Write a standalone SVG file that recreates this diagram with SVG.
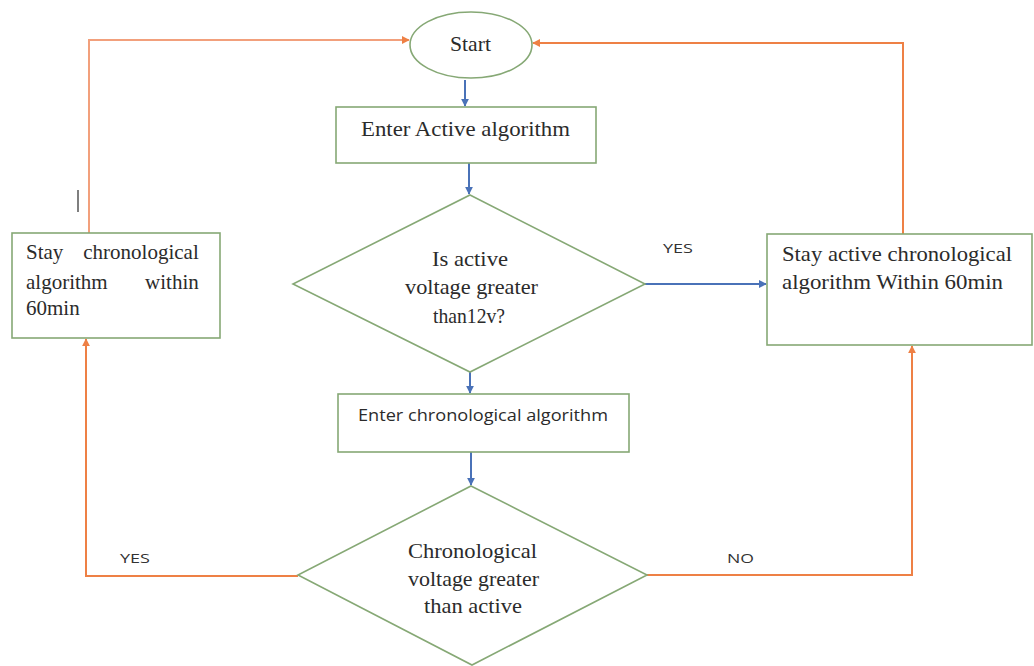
<svg xmlns="http://www.w3.org/2000/svg" width="1034" height="666" viewBox="0 0 1034 666">
  <style>
    .shape { fill: #ffffff; stroke: #86a875; stroke-width: 1.6; }
    .serif { font-family: "Liberation Serif", "DejaVu Serif", serif; font-size: 21px; fill: #2b2b2b; }
    .sans { font-family: "Open Sans", "Liberation Sans", sans-serif; fill: #2b2b2b; }
    .blue { fill: none; stroke: #4a72b8; stroke-width: 2; }
    .orange { fill: none; stroke: #ee8045; stroke-width: 2; }
    .orange-light { fill: none; stroke: #f2a07c; stroke-width: 2; }
    .label { font-family: "Open Sans", "Liberation Sans", sans-serif; font-size: 13px; fill: #333333; }
  </style>
  <defs>
    <marker id="arrowBlue" viewBox="0 0 10 10" refX="9" refY="5" markerWidth="4" markerHeight="4" orient="auto">
      <path d="M0,0 L10,5 L0,10 z" fill="#4a72b8"/>
    </marker>
    <marker id="arrowOrange" viewBox="0 0 10 10" refX="9" refY="5" markerWidth="4" markerHeight="4" orient="auto">
      <path d="M0,0 L10,5 L0,10 z" fill="#ee8045"/>
    </marker>
  </defs>

  <rect width="1034" height="666" fill="#ffffff"/>

  <!-- connectors -->
  <g id="connectors">
    <path class="blue" d="M465,80 L465,106" marker-end="url(#arrowBlue)"/>
    <path class="blue" d="M469,163 L469,194" marker-end="url(#arrowBlue)"/>
    <path class="blue" d="M645,284 L766,284" marker-end="url(#arrowBlue)"/>
    <path class="blue" d="M470,372 L470,393" marker-end="url(#arrowBlue)"/>
    <path class="blue" d="M471,452 L471,485" marker-end="url(#arrowBlue)"/>
    <path class="orange-light" d="M89,233 L89,40 L409,40" marker-end="url(#arrowOrange)"/>
    <path class="orange" d="M903,234 L903,43 L533,43" marker-end="url(#arrowOrange)"/>
    <path class="orange" d="M298,576 L86,576 L86,339" marker-end="url(#arrowOrange)"/>
    <path class="orange" d="M647,575 L912,575 L912,346" marker-end="url(#arrowOrange)"/>
    <line x1="78" y1="190" x2="78" y2="212" stroke="#555555" stroke-width="1.5"/>
    <text class="label" x="663" y="253" textLength="30" lengthAdjust="spacingAndGlyphs">YES</text>
    <text class="label" x="120" y="563" textLength="30" lengthAdjust="spacingAndGlyphs">YES</text>
    <text class="label" x="727" y="563" textLength="27" lengthAdjust="spacingAndGlyphs">NO</text>
  </g>

  <!-- nodes -->
  <g id="start">
    <ellipse class="shape" cx="471" cy="45" rx="61" ry="33"/>
    <text class="serif" x="450" y="51" textLength="41" lengthAdjust="spacingAndGlyphs">Start</text>
  </g>

  <g id="enter-active">
    <rect class="shape" x="336" y="107" width="260" height="56"/>
    <text class="serif" x="361" y="136" textLength="209" lengthAdjust="spacingAndGlyphs">Enter Active algorithm</text>
  </g>

  <g id="decision-active">
    <polygon class="shape" points="470,195 645,284 470,372 293,284"/>
    <text class="serif" x="432" y="266" textLength="76" lengthAdjust="spacingAndGlyphs">Is active</text>
    <text class="serif" x="405" y="294" textLength="133" lengthAdjust="spacingAndGlyphs">voltage greater</text>
    <text class="serif" x="433" y="323" textLength="72" lengthAdjust="spacingAndGlyphs">than12v?</text>
  </g>

  <g id="enter-chronological">
    <rect class="shape" x="338" y="394" width="291" height="58"/>
    <text class="sans" font-size="16" x="358" y="421" textLength="250" lengthAdjust="spacingAndGlyphs">Enter chronological algorithm</text>
  </g>

  <g id="decision-chronological">
    <polygon class="shape" points="471,486 647,575 472,665 298,575"/>
    <text class="serif" x="408" y="558" textLength="129" lengthAdjust="spacingAndGlyphs">Chronological</text>
    <text class="serif" x="408" y="586" textLength="131" lengthAdjust="spacingAndGlyphs">voltage greater</text>
    <text class="serif" x="424" y="613" textLength="98" lengthAdjust="spacingAndGlyphs">than active</text>
  </g>

  <g id="stay-chronological">
    <rect class="shape" x="12" y="233" width="208" height="105"/>
    <text class="serif">
      <tspan x="26" y="259">Stay</tspan>
      <tspan x="204" y="259" text-anchor="end">chronological</tspan>
      <tspan x="26" y="289">algorithm</tspan>
      <tspan x="204" y="289" text-anchor="end">within</tspan>
      <tspan x="26" y="315">60min</tspan>
    </text>
  </g>

  <g id="stay-active">
    <rect class="shape" x="767" y="234" width="265" height="111"/>
    <text class="serif" x="782" y="261" textLength="230" lengthAdjust="spacingAndGlyphs">Stay active chronological</text>
    <text class="serif" x="782" y="289" textLength="221" lengthAdjust="spacingAndGlyphs">algorithm Within 60min</text>
  </g>
</svg>
